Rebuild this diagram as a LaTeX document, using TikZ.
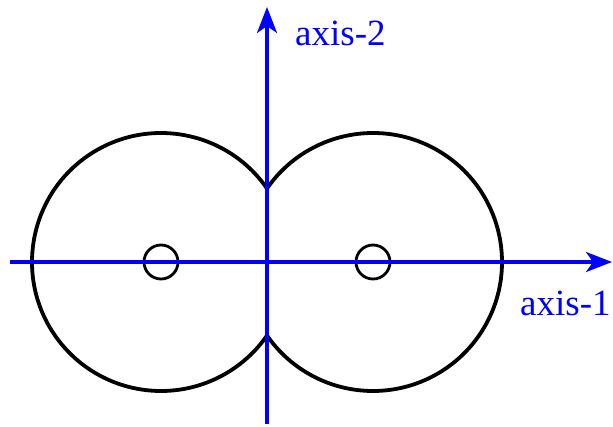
\documentclass[tikz,border=0pt]{standalone}
\usepackage{fontspec}
\setmainfont{Liberation Serif}
\usetikzlibrary{arrows.meta}
\begin{document}
\begin{tikzpicture}[x=1pt,y=-1pt,
  axisline/.style={draw=blue,line width=3.2pt,-{Stealth[length=26pt,width=20pt,inset=7pt]}},
  outline/.style={draw=black,line width=3.8pt},
  hole/.style={draw=black,line width=2.8pt},
  axislabel/.style={text=blue,font=\fontsize{37}{40}\selectfont,inner sep=0pt}]
\useasboundingbox (0,0) rectangle (613,426);
\coordinate (O) at (267,262);
\coordinate (L) at (161,262);
\coordinate (R) at (373,262);
\coordinate (xs) at (10,262);
\coordinate (xe) at (612,262);
\coordinate (ys) at (267,424);
\coordinate (ye) at (267,7);
% outline of the two overlapping circles
\draw[outline] (L) ++(-34.7:129) arc[start angle=-34.7,end angle=-325.3,radius=129];
\draw[outline] (R) ++(-145.3:129) arc[start angle=-145.3,end angle=145.3,radius=129];
% small circles
\draw[hole] (L) circle[radius=17];
\draw[hole] (R) circle[radius=17];
% axes
\draw[axisline] (xs) -- (xe);
\draw[axisline] (ys) -- (ye);
\node[axislabel,anchor=base west] (a2) at (295,45) {axis-2};
\node[axislabel,anchor=base west] (a1) at (520,315) {axis-1};
\end{tikzpicture}
\end{document}
